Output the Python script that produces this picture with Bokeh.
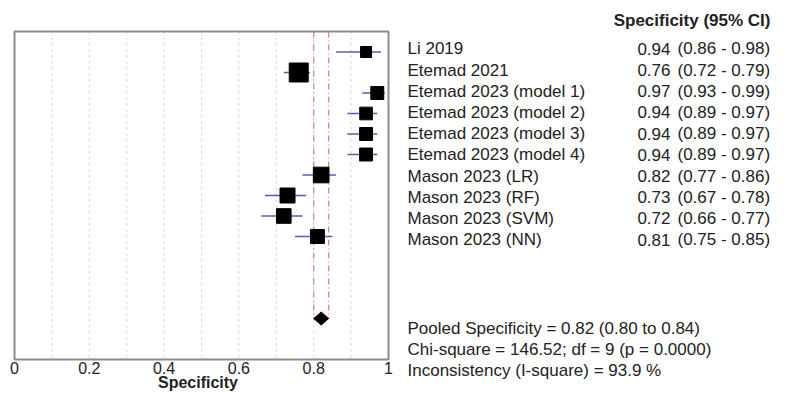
from bokeh.plotting import figure
from bokeh.models import Range1d, FixedTicker, CustomJSTickFormatter, ColumnDataSource
from bokeh.layouts import row
from bokeh.core.properties import value
from bokeh.embed import file_html
from bokeh.resources import INLINE

# ---- data ----
studies = ["Li 2019", "Etemad 2021", "Etemad 2023 (model 1)", "Etemad 2023 (model 2)",
           "Etemad 2023 (model 3)", "Etemad 2023 (model 4)", "Mason 2023 (LR)",
           "Mason 2023 (RF)", "Mason 2023 (SVM)", "Mason 2023 (NN)"]
spec = [0.94, 0.76, 0.97, 0.94, 0.94, 0.94, 0.82, 0.73, 0.72, 0.81]
ci_lo = [0.86, 0.72, 0.93, 0.89, 0.89, 0.89, 0.77, 0.67, 0.66, 0.75]
ci_hi = [0.98, 0.79, 0.99, 0.97, 0.97, 0.97, 0.86, 0.78, 0.77, 0.85]
weights = [6.0, 17.8, 8.3, 7.9, 8.3, 8.3, 12.1, 11.1, 10.6, 9.6]
pooled = 0.82
pooled_lo = 0.80
pooled_hi = 0.84
x_ticks = [0, 0.2, 0.4, 0.6, 0.8, 1]
grid_ticks = [0.1, 0.2, 0.3, 0.4, 0.5, 0.6, 0.7, 0.8, 0.9]
header = "Specificity (95% CI)"
summary_lines = ["Pooled Specificity = 0.82 (0.80 to 0.84)",
                 "Chi-square = 146.52; df =  9 (p = 0.0000)",
                 "Inconsistency (I-square) = 93.9 %"]

FONT = "Liberation Sans"
FS = "17px"
TXT = "#222222"

n = len(studies)
idx = list(range(n))
pooled_row = n + 3
box_top_row = -1
box_bot_row = pooled_row + 2

# ---- layout constants (pixels) ----
H = 392
LW = 395           # left figure width
RW = 772 - LW      # right (text) figure width
box_left_px = 14
box_right_px = 388
box_top_px = 31
box_bot_px = 359
px_per_row = (box_bot_px - box_top_px) / (box_bot_row - box_top_row)
y_top = box_top_row - box_top_px / px_per_row
y_bot = box_bot_row + (H - box_bot_px) / px_per_row
px_per_unit = box_right_px - box_left_px
x_start = -box_left_px / px_per_unit
x_end = 1 + (LW - box_right_px) / px_per_unit

# ---- left forest plot (frame spans whole figure; box drawn in data space) ----
p = figure(width=LW, height=H, x_range=Range1d(x_start, x_end), y_range=Range1d(y_bot, y_top),
           output_backend="svg", toolbar_location=None, y_axis_location=None,
           min_border_left=0, min_border_right=0, min_border_top=0, min_border_bottom=0)
p.background_fill_color = "white"
p.border_fill_color = "white"
p.outline_line_color = None
p.xgrid.visible = False
p.ygrid.visible = False

# dotted vertical grid inside the box
p.segment(x0=grid_ticks, x1=grid_ticks, y0=[box_top_row] * len(grid_ticks),
          y1=[box_bot_row] * len(grid_ticks), line_color="#c8c8c8", line_width=1,
          line_dash="dotted")

ax = p.xaxis[0]
ax.fixed_location = box_bot_row
ax.ticker = FixedTicker(ticks=x_ticks)
ax.formatter = CustomJSTickFormatter(code="return String(Math.round(tick*10)/10);")
ax.axis_line_color = None
ax.major_tick_line_color = None
ax.minor_tick_line_color = None
ax.major_tick_out = 0
ax.major_tick_in = 0
ax.major_label_standoff = 2
ax.major_label_text_font = FONT
ax.major_label_text_font_size = "16px"
ax.major_label_text_color = TXT
ax.axis_label = "Specificity"
ax.axis_label_standoff = -3
ax.axis_label_text_font = FONT
ax.axis_label_text_font_size = "16px"
ax.axis_label_text_font_style = "bold"
ax.axis_label_text_color = TXT

src = ColumnDataSource(dict(y=idx, est=spec, lo=ci_lo, hi=ci_hi,
                            sz=[4.5 * (w ** 0.5) for w in weights]))

# pooled CI vertical lines
p.segment(x0=[pooled_lo, pooled_hi], x1=[pooled_lo, pooled_hi],
          y0=[box_top_row, box_top_row], y1=[pooled_row, pooled_row],
          line_color="#d88a8a", line_width=1.3, line_dash="6 3 1 3")

p.segment(x0="lo", x1="hi", y0="y", y1="y", source=src, line_color="#5c5cae", line_width=1.3)
p.scatter(x="est", y="y", size="sz", marker="square", source=src,
          fill_color="black", line_color="black")

dh = 0.32
p.patch(x=[pooled_lo, pooled, pooled_hi, pooled],
        y=[pooled_row, pooled_row - dh, pooled_row, pooled_row + dh],
        fill_color="black", line_color="black")

# plot box
p.quad(left=[0], right=[1], top=[box_top_row], bottom=[box_bot_row],
       fill_color=None, line_color="#8c8c8c", line_width=2)

# ---- right text panel (pixel coordinates, y downwards) ----
t = figure(width=RW, height=H, x_range=Range1d(0, RW), y_range=Range1d(H, 0),
           output_backend="svg", toolbar_location=None,
           x_axis_location=None, y_axis_location=None,
           min_border_left=0, min_border_right=0, min_border_top=0, min_border_bottom=0)
t.outline_line_color = None
t.xgrid.visible = False
t.ygrid.visible = False
t.background_fill_color = "white"
t.border_fill_color = "white"

x_name = 12
x_val = 275
x_ci = 282
x_head = 375
row_y0 = 48.3
row_dy = 21.2
ys = [row_y0 + i * row_dy for i in idx]
tsrc = ColumnDataSource(dict(
    y=ys, name=studies,
    val=["%.2f" % v for v in spec],
    ci=["(%.2f - %.2f)" % (a, b) for a, b in zip(ci_lo, ci_hi)]))

common = dict(text_font=value(FONT), text_font_size=value(FS), text_color=TXT,
              text_baseline="middle")
t.text(x=x_name, y="y", text="name", source=tsrc, text_align="left", **common)
t.text(x=x_val, y="y", text="val", source=tsrc, text_align="right", **common)
t.text(x=x_ci, y="y", text="ci", source=tsrc, text_align="left", **common)
t.text(x=[x_head], y=[20], text=[header], text_align="right",
       text_font_style="bold", **common)
t.text(x=[x_name] * 3, y=[328.3, 348.8, 370], text=summary_lines, text_align="left", **common)

layout = row(p, t, spacing=0)
open("out.html", "w").write(file_html(layout, INLINE))
